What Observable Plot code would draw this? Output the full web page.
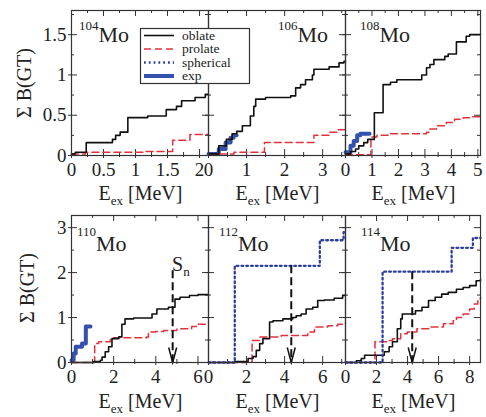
<!DOCTYPE html>
<html><head><meta charset="utf-8">
<script src="https://cdn.jsdelivr.net/npm/d3@7"></script>
<script src="https://cdn.jsdelivr.net/npm/@observablehq/plot@0.6"></script>
<style>
body{margin:0;background:#fff;}
#chart{position:relative;width:486px;height:417px;overflow:hidden;font-family:"Liberation Serif",serif;}
#chart svg{position:absolute;}
</style></head><body><div id="chart"></div>
<script>
// ---------- data ----------
const nuclei = ["104", "106", "108", "110", "112", "114"];
const element = "Mo";
const legendLabels = ["oblate", "prolate", "spherical", "exp"];

const xDomains = [[0, 2.14], [0, 3.6], [0, 5.1], [0, 6.5], [0, 7.2], [0, 8.7]];
const xMajorTicks = [[0, 0.5, 1, 1.5, 2], [0, 1, 2, 3], [0, 1, 2, 3, 4, 5], [0, 2, 4, 6], [0, 2, 4, 6], [0, 2, 4, 6, 8]];
const xMinorTicks = [[0.25, 0.75, 1.25, 1.75], [0.5, 1.5, 2.5, 3.5], [0.5, 1.5, 2.5, 3.5, 4.5], [1, 3, 5], [1, 3, 5, 7], [1, 3, 5, 7]];
const yDomains = [[0, 1.8], [0, 3.27]];
const yMajorTicks = [[0, 0.5, 1, 1.5], [0, 1, 2, 3]];
const yMinorTicks = [[0.25, 0.75, 1.25, 1.75], [0.5, 1.5, 2.5]];

// [E_ex (MeV), sum B(GT)] – cumulative step curves
const oblate104 = [[0,0.02],[0.06,0.04],[0.23,0.16],[0.64,0.2],[0.69,0.25],[0.76,0.29],[0.88,0.47],[1.19,0.49],[1.48,0.57],[1.64,0.61],[1.72,0.68],[1.93,0.72],[2.09,0.76],[2.14,0.76]];
const prolate104 = [[0,0.02],[0.22,0.04],[1.15,0.05],[1.58,0.19],[1.85,0.26],[2.14,0.26]];

const oblate106 = [[0,0.02],[0.27,0.12],[0.47,0.2],[0.62,0.27],[0.74,0.3],[0.89,0.37],[1.1,0.49],[1.19,0.61],[1.24,0.7],[1.5,0.72],[2.16,0.74],[2.29,0.84],[2.42,0.88],[2.55,0.94],[2.73,1.0],[2.77,1.07],[3.17,1.1],[3.43,1.15],[3.56,1.17],[3.6,1.17]];
const prolate106 = [[0,0.02],[0.67,0.04],[1.47,0.16],[2.77,0.25],[3.17,0.29],[3.4,0.32],[3.6,0.32]];
const exp106 = [[0,0.02],[0.27,0.08],[0.45,0.16],[0.58,0.22],[0.66,0.25],[0.74,0.25]];

const oblate108 = [[0,0.02],[0.19,0.05],[0.38,0.08],[0.5,0.12],[0.69,0.16],[0.84,0.2],[1.09,0.53],[1.42,0.88],[1.7,0.91],[1.94,0.94],[2.88,1.0],[3.06,1.09],[3.19,1.13],[3.34,1.19],[3.75,1.23],[3.88,1.26],[4.19,1.41],[4.56,1.48],[4.69,1.5],[5.1,1.5]];
const prolate108 = [[0,0.01],[0.96,0.23],[1.19,0.25],[1.63,0.27],[3.06,0.29],[3.19,0.33],[3.44,0.37],[3.81,0.41],[4.12,0.45],[4.44,0.47],[4.8,0.48],[5.1,0.48]];
const exp108 = [[0,0.04],[0.19,0.12],[0.31,0.18],[0.44,0.25],[0.56,0.27],[0.91,0.27]];

const oblate110 = [[0,0],[1.05,0.02],[1.37,0.05],[1.45,0.12],[1.6,0.24],[1.76,0.35],[1.92,0.53],[2.24,0.57],[2.39,0.85],[2.54,0.97],[2.95,0.99],[3.82,1.08],[4.05,1.19],[4.6,1.23],[4.91,1.41],[5.15,1.45],[5.6,1.49],[6.0,1.51],[6.5,1.51]];
const prolate110 = [[0,0],[1.1,0.42],[1.29,0.46],[1.84,0.51],[2.0,0.55],[3.57,0.57],[3.65,0.68],[4.0,0.69],[4.37,0.71],[5.0,0.75],[5.7,0.8],[5.94,0.85],[6.5,0.86]];
const exp110 = [[0,0.05],[0.1,0.2],[0.2,0.35],[0.5,0.42],[0.68,0.8],[0.9,0.8]];

const spherical112 = [[0,0],[1.38,2.15],[5.85,2.72],[7.1,2.9],[7.2,2.9]];
const oblate112 = [[0,0],[1.38,0.02],[2.08,0.09],[2.34,0.13],[2.51,0.27],[2.69,0.42],[2.86,0.53],[3.21,0.9],[3.39,0.93],[3.91,0.97],[4.43,1.0],[4.61,1.04],[4.87,1.08],[5.13,1.19],[5.48,1.23],[5.74,1.38],[6.09,1.39],[6.61,1.43],[7.05,1.49],[7.2,1.49]];
const prolate112 = [[0,0],[2.0,0.02],[2.29,0.49],[2.69,0.57],[3.82,0.6],[5.22,0.68],[5.57,0.79],[6.27,0.82],[6.79,0.85],[7.2,0.88]];

const spherical114 = [[0,0],[2.39,2.02],[6.84,2.55],[8.21,2.77],[8.7,2.77]];
const oblate114 = [[0,0],[0.7,0.04],[1.02,0.09],[1.23,0.16],[2.5,0.24],[2.81,0.35],[3.03,0.46],[3.34,0.75],[3.56,0.97],[3.66,1.08],[4.51,1.15],[4.93,1.23],[5.35,1.38],[5.78,1.45],[6.2,1.52],[6.62,1.56],[7.15,1.63],[7.58,1.67],[8.0,1.71],[8.42,1.82],[8.7,1.85]];
const prolate114 = [[0,0],[1.9,0.46],[2.81,0.49],[3.03,0.53],[3.56,0.64],[3.98,0.68],[4.6,0.75],[5.46,0.79],[6.31,0.86],[6.94,0.93],[7.15,1.0],[7.58,1.08],[8.0,1.19],[8.3,1.3],[8.53,1.41],[8.7,1.45]];

// neutron separation energy S_n (MeV) and height of the dashed arrow's top
const snEnergy = [null, null, null, 4.8, 4.35, 4.3];
const snTop = [null, null, null, 2.04, 2.15, 2.02];

const panelSeries = [
  {exp: null, prolate: prolate104, oblate: oblate104, spherical: null},
  {exp: exp106, prolate: prolate106, oblate: oblate106, spherical: null},
  {exp: exp108, prolate: prolate108, oblate: oblate108, spherical: null},
  {exp: exp110, prolate: prolate110, oblate: oblate110, spherical: null},
  {exp: null, prolate: prolate112, oblate: oblate112, spherical: spherical112},
  {exp: null, prolate: prolate114, oblate: oblate114, spherical: spherical114}
];

// ---------- styles / layout ----------
const seriesStyle = {
  exp: {stroke: "#3452ad", strokeWidth: 4},
  prolate: {stroke: "#e2323c", strokeWidth: 1.5, strokeDasharray: "7,4"},
  oblate: {stroke: "#111", strokeWidth: 1.6},
  spherical: {stroke: "#2c3f9f", strokeWidth: 2.3, strokeDasharray: "1.8,3"}
};
const seriesOrder = ["exp", "prolate", "oblate", "spherical"];
const colX = [[71, 208], [208, 345], [345, 480]];
const rowY = [[10, 155], [215, 362]];
const FONT = '"Liberation Serif", "Times New Roman", serif';
const ink = "#222";
const frameInk = "#333";

const chart = document.getElementById("chart");
const arrowHead = {draw(ctx) { ctx.moveTo(-4, -15); ctx.lineTo(0, 0); ctx.lineTo(4, -15); }};

nuclei.forEach((nuc, i) => {
  const c = i % 3, r = Math.floor(i / 3);
  const [x0, x1] = colX[c], [y0, y1] = rowY[r];
  const fw = x1 - x0, fh = y1 - y0;
  const ml = 45, mr = 10, mt = 10, mb = 35;
  const yDom = yDomains[r];
  const marks = [];
  // inward ticks on all four sides
  marks.push(Plot.tickX(xMajorTicks[i], {x: d => d, insetTop: fh - 6, insetBottom: -3, stroke: frameInk}));
  marks.push(Plot.tickX(xMinorTicks[i], {x: d => d, insetTop: fh - 3, insetBottom: -2, stroke: frameInk}));
  marks.push(Plot.tickX(xMajorTicks[i], {x: d => d, insetBottom: fh - 6, stroke: frameInk}));
  marks.push(Plot.tickX(xMinorTicks[i], {x: d => d, insetBottom: fh - 3, stroke: frameInk}));
  marks.push(Plot.tickY(yMajorTicks[r], {y: d => d, insetRight: fw - 6, insetLeft: -3, stroke: frameInk}));
  marks.push(Plot.tickY(yMinorTicks[r], {y: d => d, insetRight: fw - 3, stroke: frameInk}));
  marks.push(Plot.tickY(yMajorTicks[r], {y: d => d, insetLeft: fw - 6, stroke: frameInk}));
  marks.push(Plot.tickY(yMinorTicks[r], {y: d => d, insetLeft: fw - 3, stroke: frameInk}));
  // series
  for (const key of seriesOrder) {
    const data = panelSeries[i][key];
    if (!data) continue;
    marks.push(Plot.line(data, {x: d => d[0], y: d => d[1], curve: "step-after", ...seriesStyle[key]}));
  }
  // S_n arrow
  if (snEnergy[i] != null) {
    marks.push(Plot.ruleX([snEnergy[i]], {x: d => d, y1: () => snTop[i], y2: () => yDom[0], stroke: "#111", strokeWidth: 2, strokeDasharray: "8,4"}));
    marks.push(Plot.dot([snEnergy[i]], {x: d => d, y: () => yDom[0], symbol: arrowHead, stroke: "#111", fill: "none", strokeWidth: 1.5}));
  }
  marks.push(Plot.frame({stroke: frameInk, strokeWidth: 1.2}));
  marks.push(Plot.axisX({ticks: xMajorTicks[i], tickSize: 0, tickPadding: 7, tickFormat: d => String(d), label: null, fill: ink}));
  if (c === 0) marks.push(Plot.axisY({ticks: yMajorTicks[r], tickSize: 0, tickPadding: 5, tickFormat: d => String(d), label: null, fill: ink}));

  const svg = Plot.plot({
    width: fw + ml + mr, height: fh + mt + mb,
    marginLeft: ml, marginRight: mr, marginTop: mt, marginBottom: mb,
    x: {domain: xDomains[i], axis: null},
    y: {domain: yDom, axis: null},
    style: {background: "transparent", overflow: "visible", fontFamily: FONT, fontSize: "19px", color: ink},
    marks
  });
  svg.style.left = (x0 - ml) + "px";
  svg.style.top = (y0 - mt) + "px";
  svg.style.maxWidth = "none";
  chart.appendChild(svg);
});

// ---------- annotations overlay ----------
const ov = d3.select(chart).append("svg")
  .attr("width", 486).attr("height", 417)
  .style("left", "0px").style("top", "0px")
  .style("font-family", FONT).attr("fill", ink);

// nucleus labels
const labelDx = [8, 70, 15, 6, 11, 16];
const supBase = [30, 236], moBase = [42, 251];
nuclei.forEach((nuc, i) => {
  const c = i % 3, r = Math.floor(i / 3);
  const x = colX[c][0] + labelDx[i];
  const t = ov.append("text").attr("x", x).attr("y", supBase[r]);
  t.append("tspan").attr("font-size", 13).text(nuc);
  t.append("tspan").attr("font-size", 22).attr("dy", moBase[r] - supBase[r]).text(element);
});

// x titles
const xTitleBase = [200, 408];
[0, 1].forEach(r => colX.forEach(([a, b]) => {
  const t = ov.append("text").attr("x", (a + b) / 2 + 1).attr("y", xTitleBase[r]).attr("text-anchor", "middle").attr("font-size", 20);
  t.append("tspan").text("E");
  t.append("tspan").attr("font-size", 13).attr("dy", 5).text("ex");
  t.append("tspan").attr("dy", -5).text(" [MeV]");
}));

// y titles
[[24, 83], [27, 288]].forEach(([x, y]) => {
  ov.append("text").attr("transform", `translate(${x},${y}) rotate(-90)`)
    .attr("text-anchor", "middle").attr("dominant-baseline", "central").attr("font-size", 20)
    .text("\u03A3 B(GT)");
});

// S_n label
{
  const t = ov.append("text").attr("x", 172).attr("y", 271).attr("font-size", 20);
  t.append("tspan").text("S");
  t.append("tspan").attr("font-size", 13).attr("dy", 5).text("n");
}

// legend
const lg = ov.append("g");
lg.append("rect").attr("x", 140.5).attr("y", 28.5).attr("width", 109).attr("height", 55)
  .attr("fill", "#fff").attr("stroke", frameInk).attr("stroke-width", 1.2);
const legendKeys = ["oblate", "prolate", "spherical", "exp"];
const legendY = [35.5, 49, 62.5, 76];
legendLabels.forEach((lab, k) => {
  const s = seriesStyle[legendKeys[k]];
  lg.append("line").attr("x1", 144).attr("x2", 174).attr("y1", legendY[k]).attr("y2", legendY[k])
    .attr("stroke", s.stroke).attr("stroke-width", s.strokeWidth)
    .attr("stroke-dasharray", s.strokeDasharray || null);
  lg.append("text").attr("x", 182).attr("y", legendY[k] + 4).attr("font-size", 13.5).text(lab);
});
</script>
</body></html>
